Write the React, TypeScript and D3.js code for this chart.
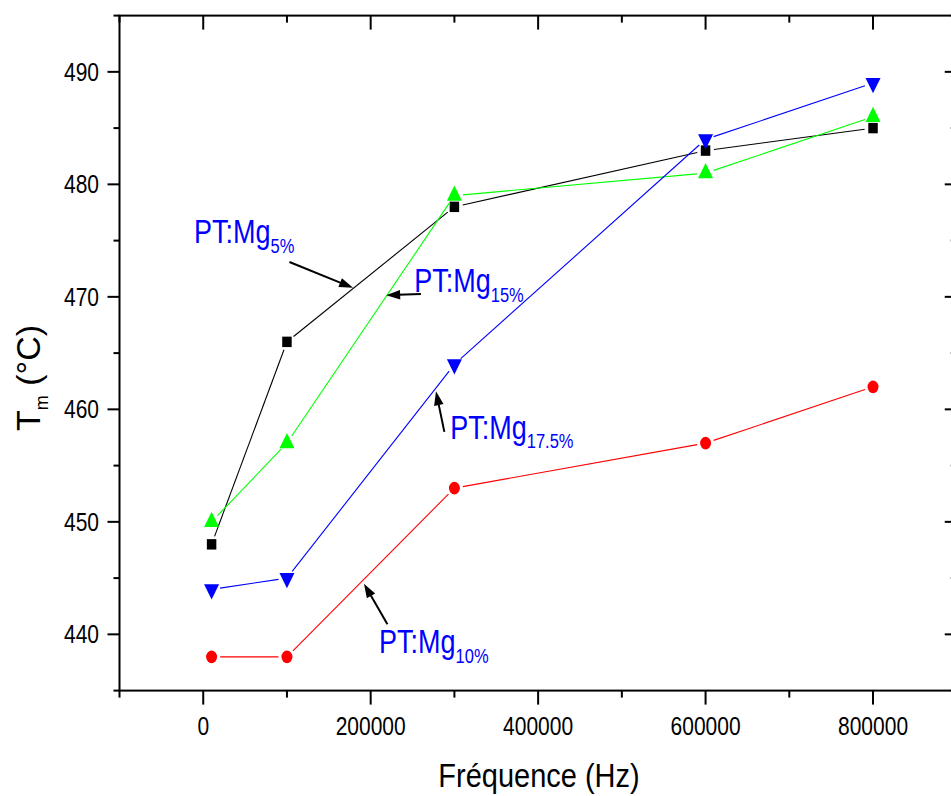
import React from 'react';
import * as d3 from 'd3';

// ---- data ----
const frequencies = [10000, 100000, 300000, 600000, 800000];
const mg5 = [448, 466, 478, 483, 485];
const mg10 = [438, 438, 453, 457, 462];
const mg15 = [450, 457, 479, 481, 486];
const mg175 = [444, 445, 464, 484, 489];

const xMajorTicks = [0, 200000, 400000, 600000, 800000];
const yMajorTicks = [440, 450, 460, 470, 480, 490];
const xTitle = 'Fréquence (Hz)';

// annotations in data coordinates: text anchor, arrow start, arrow tip
const annLabels = ['5%', '15%', '17.5%', '10%'];
const annText = [[-11000, 474.8], [252000, 470.4], [295000, 457.4], [210000, 438.3]];
const annFrom = [[103000, 473.1], [260000, 470.25], [288000, 458.0], [220000, 440.9]];
const annTo = [[179000, 470.8], [218500, 470.15], [278000, 461.6], [192000, 444.5]];

const W = 951;
const H = 796;
const FONT = "'Liberation Sans', Arial, sans-serif";

const x = d3.scaleLinear().domain([-100000, 900000]).range([119.5, 956.75]);
const y = d3.scaleLinear().domain([435, 495]).range([690.6, 15.6]);

const xMinor = d3.range(-100000, 900001, 200000);
const yMinor = d3.range(435, 496, 10);

type Series = { values: number[]; color: string; marker: string };
const series: Series[] = [
  { values: mg5, color: '#000000', marker: 'square' },
  { values: mg10, color: '#ff0000', marker: 'circle' },
  { values: mg15, color: '#00ff00', marker: 'up' },
  { values: mg175, color: '#0000ff', marker: 'down' },
];

const squarePath = d3.symbol(d3.symbolSquare, 90)()!;
const circlePath = d3.symbol(d3.symbolCircle, Math.PI * 5.5 * 5.5)()!;
const triPath = d3.symbol(d3.symbolTriangle, (15 * 15 * Math.sqrt(3)) / 4)()!;

function Marker({ kind, cx, cy, color }: { kind: string; cx: number; cy: number; color: string }) {
  let d = squarePath;
  let tr = `translate(${cx},${cy}) scale(1,1.1)`;
  if (kind === 'circle') {
    d = circlePath;
    tr = `translate(${cx},${cy}) scale(1,1.15)`;
  } else if (kind === 'up') {
    d = triPath;
    tr = `translate(${cx},${cy}) scale(1,1.18)`;
  } else if (kind === 'down') {
    d = triPath;
    tr = `translate(${cx},${cy}) scale(1,-1.18)`;
  }
  return <path d={d} transform={tr} fill={color} />;
}

function SegLines({ values, color }: { values: number[]; color: string }) {
  const gap = 8.5;
  const segs = [];
  for (let i = 0; i < values.length - 1; i++) {
    const x1 = x(frequencies[i]);
    const y1 = y(values[i]);
    const x2 = x(frequencies[i + 1]);
    const y2 = y(values[i + 1]);
    const len = Math.hypot(x2 - x1, y2 - y1);
    const ux = (x2 - x1) / len;
    const uy = (y2 - y1) / len;
    segs.push(
      <line
        key={i}
        x1={x1 + ux * gap}
        y1={y1 + uy * gap}
        x2={x2 - ux * gap}
        y2={y2 - uy * gap}
        stroke={color}
        strokeWidth={1.1}
      />
    );
  }
  return <g>{segs}</g>;
}

function Arrow({ from, to }: { from: number[]; to: number[] }) {
  const x1 = x(from[0]);
  const y1 = y(from[1]);
  const x2 = x(to[0]);
  const y2 = y(to[1]);
  const len = Math.hypot(x2 - x1, y2 - y1);
  const ux = (x2 - x1) / len;
  const uy = (y2 - y1) / len;
  const hl = 14;
  const hw = 4.8;
  const bx = x2 - ux * hl;
  const by = y2 - uy * hl;
  const pts = [
    [x2, y2],
    [bx - uy * hw, by + ux * hw],
    [bx + uy * hw, by - ux * hw],
  ];
  return (
    <g>
      <line x1={x1} y1={y1} x2={bx + ux * 2} y2={by + uy * 2} stroke="#000" strokeWidth={2} />
      <polygon points={pts.map((p) => p.join(',')).join(' ')} fill="#000" />
    </g>
  );
}

export default function App() {
  const x0 = x.range()[0];
  const x1 = x.range()[1];
  const y0 = y.range()[0];
  const y1 = y.range()[1];
  return (
    <svg
      width={W}
      height={H}
      style={{ position: 'absolute', left: 0, top: 0, background: '#fff' }}
      fontFamily={FONT}
    >
      <rect x={0} y={0} width={W} height={H} fill="#fff" />
      {/* series */}
      {series.map((s, i) => (
        <g key={i}>
          <SegLines values={s.values} color={s.color} />
          {s.values.map((v, j) => (
            <Marker key={j} kind={s.marker} cx={x(frequencies[j])} cy={y(v)} color={s.color} />
          ))}
        </g>
      ))}

      {/* frame */}
      <rect x={x0} y={y1} width={x1 - x0} height={y0 - y1} fill="none" stroke="#000" strokeWidth={2} />

      {/* x ticks */}
      {xMajorTicks.map((t) => (
        <g key={'xM' + t}>
          <line x1={x(t)} x2={x(t)} y1={y0} y2={y0 + 14} stroke="#000" strokeWidth={2} />
          <line x1={x(t)} x2={x(t)} y1={y1} y2={y1 + 14} stroke="#000" strokeWidth={2} />
          <text
            transform={`translate(${x(t)},735) scale(1,1.2)`}
            textAnchor="middle"
            fontSize={21}
            fill="#000"
          >
            {t}
          </text>
        </g>
      ))}
      {xMinor.map((t) => (
        <g key={'xm' + t}>
          <line x1={x(t)} x2={x(t)} y1={y0} y2={y0 + 7} stroke="#000" strokeWidth={2} />
          <line x1={x(t)} x2={x(t)} y1={y1} y2={y1 + 7} stroke="#000" strokeWidth={2} />
        </g>
      ))}

      {/* y ticks */}
      {yMajorTicks.map((t) => (
        <g key={'yM' + t}>
          <line x1={x0} x2={x0 - 12} y1={y(t)} y2={y(t)} stroke="#000" strokeWidth={2} />
          <line x1={x1} x2={x1 - 12} y1={y(t)} y2={y(t)} stroke="#000" strokeWidth={2} />
          <text
            transform={`translate(99,${y(t) + 9}) scale(1,1.2)`}
            textAnchor="end"
            fontSize={21}
            fill="#000"
          >
            {t}
          </text>
        </g>
      ))}
      {yMinor.map((t) => (
        <g key={'ym' + t}>
          <line x1={x0} x2={x0 - 6} y1={y(t)} y2={y(t)} stroke="#000" strokeWidth={2} />
          <line x1={x1} x2={x1 - 6} y1={y(t)} y2={y(t)} stroke="#000" strokeWidth={2} />
        </g>
      ))}

      {/* axis titles */}
      <text transform="translate(539,787) scale(1,1.15)" textAnchor="middle" fontSize={29} fill="#000">
        {xTitle}
      </text>
      <text transform="translate(40,431) rotate(-90)" fontSize={34} fill="#000">
        T
        <tspan fontSize={18} dy={8}>
          m
        </tspan>
        <tspan fontSize={34} dy={-8}>
          {' (°C)'}
        </tspan>
      </text>

      {/* annotations */}
      {annLabels.map((lab, i) => (
        <g key={'ann' + i}>
          <text
            transform={`translate(${x(annText[i][0])},${y(annText[i][1])}) scale(1,1.22)`}
            fontSize={27}
            fill="#0000ff"
          >
            PT:Mg
            <tspan fontSize={16.5} dy={8}>
              {lab}
            </tspan>
          </text>
          <Arrow from={annFrom[i]} to={annTo[i]} />
        </g>
      ))}
    </svg>
  );
}
